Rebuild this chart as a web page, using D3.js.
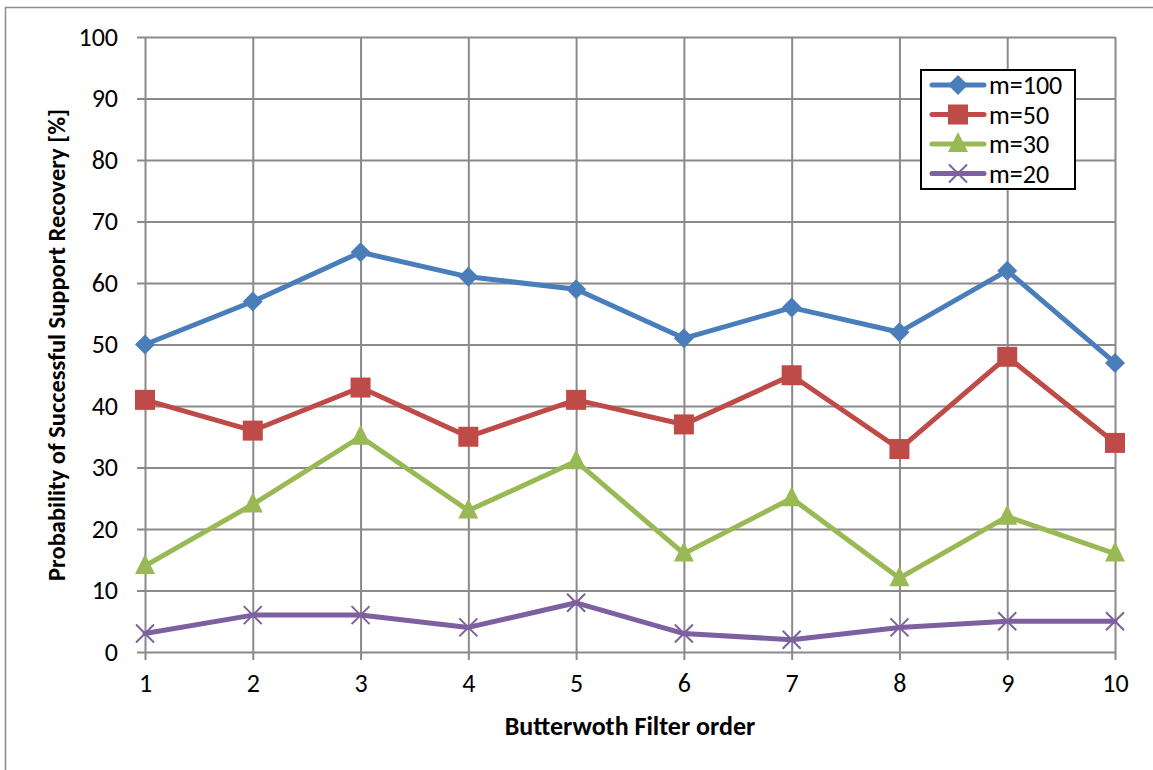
<!DOCTYPE html>
<html><head><meta charset="utf-8">
<script src="https://cdn.jsdelivr.net/npm/d3@7"></script>
<style>body{margin:0;background:#fff}svg{display:block}text{font-family:Carlito,Lato,"Liberation Sans",sans-serif}</style>
</head><body><svg id="c" width="1153" height="770"></svg>
<script>
const orders = [1,2,3,4,5,6,7,8,9,10];
const m100 = [50,57,65,61,59,51,56,52,62,47];
const m50  = [41,36,43,35,41,37,45,33,48,34];
const m30  = [14,24,35,23,31,16,25,12,22,16];
const m20  = [3,6,6,4,8,3,2,4,5,5];
const yTicks = [0,10,20,30,40,50,60,70,80,90,100];
const seriesNames = ["m=100","m=50","m=30","m=20"];
const seriesColors = ["#4A7EBB","#BE4B48","#98B954","#7D60A0"];
const seriesMarkers = ["diamond","square","triangle","x"];
const seriesValues = [m100,m50,m30,m20];

const svg = d3.select("#c");
svg.append("path").attr("d","M5.5,770 V7.5 H1153").attr("fill","none").attr("stroke","#8c8c8c").attr("stroke-width",1.5);

const x = d3.scaleLinear().domain([1,10]).range([145,1115]);
const y = d3.scaleLinear().domain([0,100]).range([652,37]);
const grid = "#8a8a8a";

const gy = svg.append("g").attr("transform","translate(145,0)")
  .call(d3.axisLeft(y).tickValues(yTicks).tickSize(-970).tickSizeOuter(0).tickPadding(27));
gy.select(".domain").remove();
gy.selectAll("line").attr("stroke",grid).attr("stroke-width",2).attr("x1",-8).attr("x2",970);
gy.selectAll("text").attr("font-size",26).attr("fill","#000").attr("font-family","Carlito,Lato,sans-serif");

const gx = svg.append("g").attr("transform","translate(0,652)")
  .call(d3.axisBottom(x).tickValues(orders).tickSize(-615).tickSizeOuter(0).tickPadding(22).tickFormat(d3.format("d")));
gx.select(".domain").remove();
gx.selectAll("line").attr("stroke",grid).attr("stroke-width",2).attr("y1",8).attr("y2",-615);
gx.selectAll("text").attr("font-size",26).attr("fill","#000").attr("font-family","Carlito,Lato,sans-serif");

const line = d3.line().x((d,i)=>x(orders[i])).y(d=>y(d));

function marker(g, type, color, cx, cy){
  if(type==="diamond"){
    g.append("path").attr("d",`M${cx},${cy-10}L${cx+10},${cy}L${cx},${cy+10}L${cx-10},${cy}Z`).attr("fill",color);
  } else if(type==="square"){
    g.append("rect").attr("x",cx-10).attr("y",cy-10).attr("width",20).attr("height",20).attr("fill",color);
  } else if(type==="triangle"){
    g.append("path").attr("d",`M${cx},${cy-12}L${cx+10},${cy+8}L${cx-10},${cy+8}Z`).attr("fill",color);
  } else {
    g.append("path").attr("d",`M${cx-9},${cy-9}L${cx+9},${cy+9}M${cx-9},${cy+9}L${cx+9},${cy-9}`).attr("stroke",color).attr("stroke-width",2);
  }
}

seriesValues.forEach((vals,k)=>{
  const g = svg.append("g");
  g.append("path").datum(vals).attr("d",line).attr("fill","none")
    .attr("stroke",seriesColors[k]).attr("stroke-width",5).attr("stroke-linejoin","round").attr("stroke-linecap","round");
  vals.forEach((v,i)=>marker(g,seriesMarkers[k],seriesColors[k],x(orders[i]),y(v)));
});

const lg = svg.append("g");
lg.append("rect").attr("x",921).attr("y",70).attr("width",154).attr("height",119).attr("fill","#fff").attr("stroke","#000").attr("stroke-width",2);
seriesNames.forEach((n,k)=>{
  const cy = 85 + k*29.5;
  lg.append("line").attr("x1",932).attr("x2",984).attr("y1",cy).attr("y2",cy)
    .attr("stroke",seriesColors[k]).attr("stroke-width",5).attr("stroke-linecap","round");
  marker(lg,seriesMarkers[k],seriesColors[k],958,cy);
  lg.append("text").attr("x",989).attr("y",cy).attr("dy","0.35em").attr("font-size",26).text(n);
});

svg.append("text").attr("x",630).attr("y",735).attr("text-anchor","middle").attr("font-size",26).attr("font-weight","bold").text("Butterwoth Filter order");
svg.append("text").attr("transform","translate(65,345) rotate(-90)").attr("text-anchor","middle").attr("font-size",24.5).attr("font-weight","bold").text("Probability of Successful Support Recovery [%]");
</script></body></html>
